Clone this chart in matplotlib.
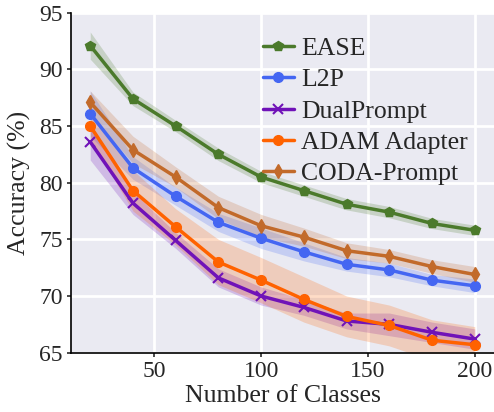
import matplotlib
matplotlib.use('Agg')
import matplotlib.pyplot as plt
import seaborn as sns
import numpy as np

sns.set_theme(style='darkgrid')
plt.rcParams['font.family'] = ['Liberation Serif', 'DejaVu Serif']

classes = [20, 40, 60, 80, 100, 120, 140, 160, 180, 200]

ease = [92.1, 87.4, 85.0, 82.5, 80.5, 79.3, 78.1, 77.4, 76.4, 75.8]
ease_std = [1.2, 0.6, 0.5, 0.55, 0.5, 0.5, 0.5, 0.5, 0.45, 0.45]

l2p = [86.1, 81.3, 78.8, 76.5, 75.1, 73.9, 72.8, 72.3, 71.4, 70.9]
l2p_std = [2.0, 1.0, 0.8, 0.8, 0.9, 0.8, 0.6, 0.6, 0.5, 0.6]

dual = [83.6, 78.2, 74.9, 71.6, 70.0, 69.0, 67.8, 67.5, 66.8, 66.2]
dual_std = [1.6, 1.0, 0.7, 0.8, 0.8, 0.7, 0.7, 1.0, 0.9, 0.9]

adam = [85.0, 79.3, 76.1, 73.0, 71.4, 69.7, 68.2, 67.4, 66.1, 65.7]
adam_std = [1.2, 1.8, 1.6, 2.0, 2.0, 2.0, 1.8, 1.8, 1.8, 1.6]

coda = [87.1, 82.9, 80.5, 77.8, 76.2, 75.2, 74.0, 73.5, 72.6, 71.9]
coda_std = [1.0, 1.2, 0.9, 1.0, 1.0, 0.8, 0.7, 0.6, 0.6, 0.7]

series = [
    ('EASE', ease, ease_std, '#4b7a2b', 'p'),
    ('L2P', l2p, l2p_std, '#4466f2', 'o'),
    ('DualPrompt', dual, dual_std, '#7012b8', 'x'),
    ('ADAM Adapter', adam, adam_std, '#ff6200', 'o'),
    ('CODA-Prompt', coda, coda_std, '#c26a2a', 'd'),
]

fig = plt.figure(figsize=(4.94, 4.12), dpi=100)
ax = fig.add_axes([71 / 494, 1 - 352.7 / 412, (494 - 71) / 494, 340 / 412])

x = np.array(classes)
for name, vals, std, color, mk in series:
    vals = np.array(vals)
    std = np.array(std)
    ax.fill_between(x, vals - std, vals + std, color=color, alpha=0.22, linewidth=0)
    ax.plot(x, vals, color=color, marker=mk, markersize=7, linewidth=2.5,
            markeredgewidth=1.5 if mk == 'x' else 1, label=name)

ax.set_xlim(11, 209)
ax.set_ylim(65, 95)
ax.set_xticks([50, 100, 150, 200])
ax.set_yticks([65, 70, 75, 80, 85, 90, 95])
ax.tick_params(labelsize=17, length=3, color='#333333', bottom=True, left=True, pad=3)
ax.grid(color='white', linewidth=2)
for side in ['left', 'bottom']:
    ax.spines[side].set_visible(True)
    ax.spines[side].set_color('black')
    ax.spines[side].set_linewidth(1.2)
for side in ['top', 'right']:
    ax.spines[side].set_visible(False)

ax.set_xlabel('Number of Classes', fontsize=18.5, labelpad=2)
ax.set_ylabel('Accuracy (%)', fontsize=18.5, labelpad=6)

ax.legend(loc='upper right', fontsize=18.5, frameon=False, handlelength=1.2,
          labelspacing=0.33, handletextpad=0.3, borderaxespad=0.2,
          bbox_to_anchor=(0.975, 0.975))

fig.savefig('out.png', dpi=100)
